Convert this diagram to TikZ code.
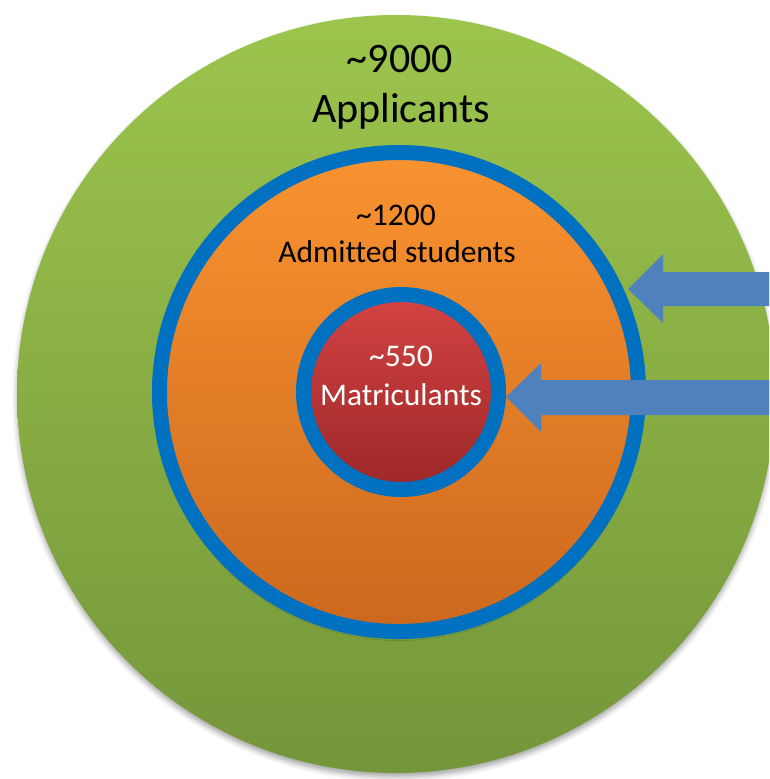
\documentclass[tikz,border=0pt]{standalone}
\usepackage{fontspec}
\setmainfont{Carlito}[Ligatures=NoCommon]
\usepackage{xcolor}
\usepackage{tikz}
\usetikzlibrary{shadows.blur}

\definecolor{appTop}{HTML}{9CC54D}
\definecolor{appBot}{HTML}{74963A}
\definecolor{admTop}{HTML}{F99330}
\definecolor{admBot}{HTML}{CC681E}
\definecolor{matTop}{HTML}{D44343}
\definecolor{matBot}{HTML}{9C2727}
\definecolor{ringblue}{HTML}{0070C0}
\definecolor{arrowblue}{HTML}{4F81BD}

\begin{document}
\begin{tikzpicture}[x=1pt,y=-1pt,line join=round,
    ring/.style={draw=ringblue,line width=15pt},
    softshadow/.style={blur shadow={shadow xshift=0pt,shadow yshift=-4pt,
        shadow blur radius=5pt,shadow opacity=35}},
    biglbl/.style={font=\fontsize{42}{50}\selectfont,anchor=base},
    lbl/.style={font=\fontsize{31.5}{38}\selectfont,anchor=base}]
  \clip (0,0) rectangle (769,779);
  \coordinate (C0) at (396,394);
  \coordinate (C1) at (399,392);
  \coordinate (C2) at (401,392);
  % arrow towards the admitted ring
  \coordinate (T1) at (628,289);
  \coordinate (H1a) at (663,254);
  \coordinate (H1b) at (663,323);
  \coordinate (B1a) at (663,272);
  \coordinate (B1b) at (663,306);
  \coordinate (E1a) at (780,272);
  \coordinate (E1b) at (780,306);
  % arrow towards the matriculant ring
  \coordinate (T2) at (506,397);
  \coordinate (H2a) at (541,363);
  \coordinate (H2b) at (541,432);
  \coordinate (B2a) at (541,380);
  \coordinate (B2b) at (541,415);
  \coordinate (E2a) at (780,380);
  \coordinate (E2b) at (780,415);
  \shade[top color=appTop,bottom color=appBot,softshadow] (C0) circle (379pt);
  \shade[top color=admTop,bottom color=admBot,ring,softshadow] (C1) circle (239.5pt);
  \shade[top color=matTop,bottom color=matBot,ring] (C2) circle (97.5pt);
  \fill[arrowblue] (T1) -- (H1a) -- (B1a) -- (E1a) -- (E1b) -- (B1b) -- (H1b) -- cycle;
  \fill[arrowblue] (T2) -- (H2a) -- (B2a) -- (E2a) -- (E2b) -- (B2b) -- (H2b) -- cycle;
  \node[biglbl] (appN) at (400,72) {\textasciitilde9000};
  \node[biglbl] (appL) at (401,122) {Applicants};
  \node[lbl] (admN) at (396,225) {\textasciitilde1200};
  \node[lbl] (admL) at (397,262) {Admitted students};
  \node[lbl,white] (matN) at (401,366) {\textasciitilde550};
  \node[lbl,white] (matL) at (401,405) {Matriculants};
\end{tikzpicture}
\end{document}
